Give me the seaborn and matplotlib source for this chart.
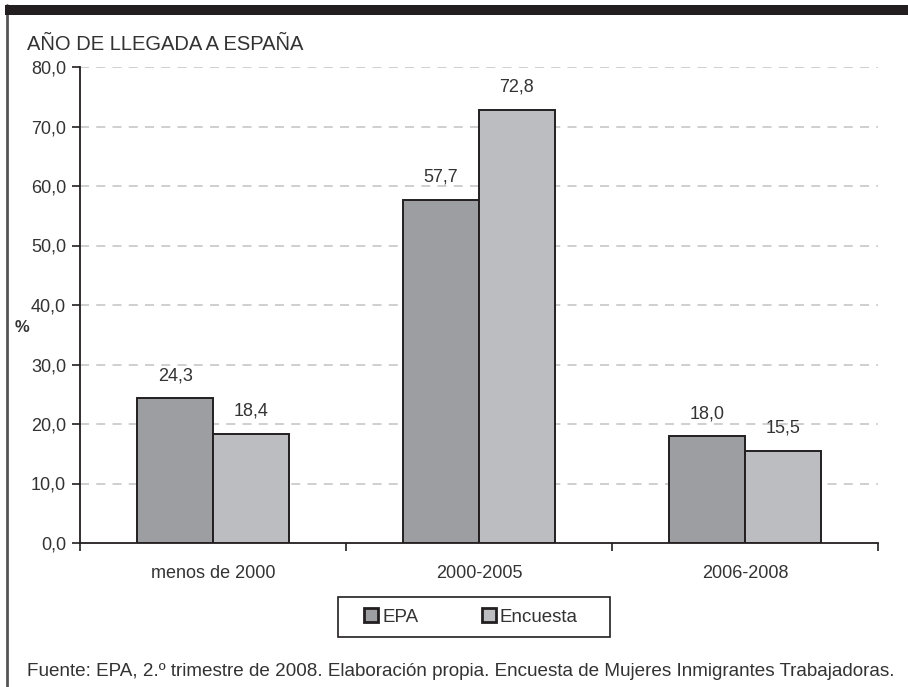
import matplotlib
matplotlib.use("Agg")
import matplotlib.pyplot as plt
from matplotlib.patches import Rectangle
from matplotlib.lines import Line2D
from matplotlib.ticker import FixedLocator, FuncFormatter
import seaborn as sns
import pandas as pd

# Data
categories = ["menos de 2000", "2000-2005", "2006-2008"]
series_names = ["EPA", "Encuesta"]
epa_values = [24.3, 57.7, 18.0]
encuesta_values = [18.4, 72.8, 15.5]
y_ticks = [0, 10, 20, 30, 40, 50, 60, 70, 80]

title_text = "AÑO DE LLEGADA A ESPAÑA"
y_label = "%"
source_text = ("Fuente: EPA, 2.º trimestre de 2008. Elaboración propia. "
               "Encuesta de Mujeres Inmigrantes Trabajadoras.")

df = pd.DataFrame({
    "periodo": categories * 2,
    "serie": [series_names[0]] * 3 + [series_names[1]] * 3,
    "valor": epa_values + encuesta_values,
})

sns.set_theme(style="white")
plt.rcParams["font.family"] = ["Liberation Sans", "DejaVu Sans"]

text_color = "#333333"
edge_color = "#231f20"
palette = {"EPA": "#9d9ea1", "Encuesta": "#bcbdc0"}

fig = plt.figure(figsize=(9.08, 6.87), dpi=100)
ax = fig.add_axes([80 / 908, 1 - 543 / 687, (878 - 80) / 908, (543 - 67) / 687])

sns.barplot(data=df, x="periodo", y="valor", hue="serie", order=categories,
            hue_order=series_names, palette=palette, width=0.57, gap=0,
            edgecolor=edge_color, linewidth=1.4, saturation=1,
            ax=ax, legend=False, zorder=3)

# Value labels above each bar
for container in ax.containers:
    ax.bar_label(container, labels=[f"{v:.1f}".replace(".", ",") for v in container.datavalues],
                 padding=10, fontsize=13, color=text_color)

ax.set_xlim(-0.5, 2.5)
ax.set_ylim(0, 80)
ax.yaxis.set_major_locator(FixedLocator(y_ticks))
ax.yaxis.set_major_formatter(FuncFormatter(lambda v, p: f"{v:.1f}".replace(".", ",")))
ax.tick_params(axis="y", direction="out", length=6, width=1.2, color=edge_color,
               labelsize=13, labelcolor=text_color, pad=4, left=True)
ax.tick_params(axis="x", which="major", length=0, labelsize=13,
               labelcolor=text_color, pad=16)
ax.xaxis.set_minor_locator(FixedLocator([-0.5, 0.5, 1.5, 2.5]))
ax.tick_params(axis="x", which="minor", direction="out", length=6, width=1.2,
               color=edge_color, bottom=True)
ax.set_xlabel("")
ax.set_ylabel("")

for s in ["top", "right"]:
    ax.spines[s].set_visible(False)
for s in ["left", "bottom"]:
    ax.spines[s].set_color(edge_color)
    ax.spines[s].set_linewidth(1.3)

ax.grid(False)
for t in y_ticks[1:]:
    ax.axhline(t, color="#cccccc", linewidth=1.3, linestyle=(0, (5, 4)), zorder=1)

# Legend entries, with a wide box drawn around them
handles = [Rectangle((0, 0), 1, 1, facecolor=palette[n], edgecolor=edge_color, linewidth=2)
           for n in series_names]
leg = fig.legend(handles, series_names, loc="center", bbox_to_anchor=(471 / 908, 1 - 617 / 687),
                 ncol=2, frameon=False, fontsize=13.5, handlelength=0.75, handleheight=0.75,
                 handletextpad=0.2, columnspacing=3.4, borderpad=0, borderaxespad=0)
for txt in leg.get_texts():
    txt.set_color(text_color)
fig.patches.append(Rectangle((338 / 908, 1 - 637 / 687), (610 - 338) / 908, 40 / 687,
                             transform=fig.transFigure, facecolor="none",
                             edgecolor=edge_color, linewidth=1.2, zorder=4))

# Title, axis unit and source
fig.text(27 / 908, 1 - 45 / 687, title_text, fontsize=14.5, color=text_color, va="center", ha="left")
fig.text(22 / 908, 1 - 327 / 687, y_label, fontsize=12, color=text_color, va="center",
         ha="center", fontweight="bold")
fig.text(27 / 908, 1 - 672 / 687, source_text, fontsize=13.6, color=text_color, va="center", ha="left")

# Frame: dark band on top and rule on the left
fig.patches.append(Rectangle((5 / 908, 1 - 15 / 687), 1, 10 / 687, transform=fig.transFigure,
                             facecolor="#231f20", edgecolor="none", zorder=5))
fig.lines.append(Line2D([7 / 908, 7 / 908], [0, 1 - 5 / 687], transform=fig.transFigure,
                        color="#555555", linewidth=2, zorder=5))

fig.savefig("out.png", dpi=100)
